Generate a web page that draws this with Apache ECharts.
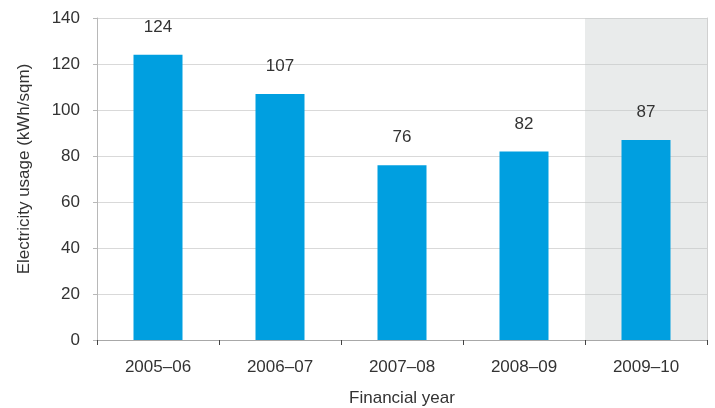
<!DOCTYPE html>
<html>
<head>
<meta charset="utf-8">
<script src="https://cdn.jsdelivr.net/npm/echarts@6/dist/echarts.min.js"></script>
<style>
  html, body { margin: 0; padding: 0; background: #fff; }
  #chart { width: 715px; height: 408px; }
</style>
</head>
<body>
<div id="chart"></div>
<script>
// Electricity usage per square metre by financial year
const years = ['2005–06', '2006–07', '2007–08', '2008–09', '2009–10'];
const usage = [124, 107, 76, 82, 87];
const highlightYear = '2009–10';
const yTitle = 'Electricity usage (kWh/sqm)';

const FONT = '"Liberation Sans", Arial, sans-serif';
const FS = 17;
const chart = echarts.init(document.getElementById('chart'), null, { renderer: 'canvas' });

chart.setOption({
  animation: false,
  textStyle: { fontFamily: FONT },
  grid: { left: 97, right: 8, top: 18, bottom: 68, containLabel: false, outerBoundsMode: 'none' },
  graphic: [{
    type: 'text',
    x: 24,
    y: 169,
    rotation: Math.PI / 2,
    style: {
      text: yTitle,
      fontSize: FS,
      fontFamily: FONT,
      fill: '#333',
      align: 'center',
      verticalAlign: 'middle'
    }
  }],
  xAxis: [{
    type: 'category',
    data: years,
    name: 'Financial year',
    nameLocation: 'middle',
    nameGap: 50,
    nameTextStyle: { fontSize: FS, color: '#333', fontFamily: FONT },
    axisLine: { lineStyle: { color: '#b8b8b8', width: 1 } },
    axisTick: { show: true, alignWithLabel: false, length: 5, lineStyle: { color: '#444' } },
    axisLabel: { fontSize: FS, color: '#333', margin: 19, fontFamily: FONT }
  }, {
    type: 'category',
    data: years,
    position: 'top',
    axisLine: { show: true, lineStyle: { color: '#a8a8a8' } },
    axisTick: { show: false },
    axisLabel: { show: false }
  }],
  yAxis: [{
    type: 'value',
    min: 0,
    max: 140,
    interval: 20,
    axisLine: { show: true, lineStyle: { color: '#b8b8b8' } },
    axisTick: { show: true, length: 4, inside: false, lineStyle: { color: '#b8b8b8' } },
    axisLabel: { fontSize: FS, color: '#333', margin: 17, fontFamily: FONT },
    splitLine: { lineStyle: { color: '#d9d9d9' } }
  }, {
    type: 'value',
    position: 'right',
    min: 0,
    max: 140,
    interval: 20,
    axisLine: { show: true, lineStyle: { color: '#d0d0d0' } },
    axisTick: { show: false },
    axisLabel: { show: false },
    splitLine: { show: false }
  }],
  series: [{
    type: 'bar',
    data: usage,
    barWidth: 49,
    itemStyle: { color: '#009fe0' },
    label: {
      show: true,
      position: 'top',
      distance: 19,
      fontSize: FS,
      color: '#333',
      fontFamily: FONT
    },
    markArea: {
      silent: true,
      itemStyle: { color: 'rgba(196,202,202,0.38)' },
      data: [[{ xAxis: highlightYear, yAxis: 0 }, { xAxis: highlightYear, yAxis: 140 }]]
    }
  }]
});
</script>
</body>
</html>
